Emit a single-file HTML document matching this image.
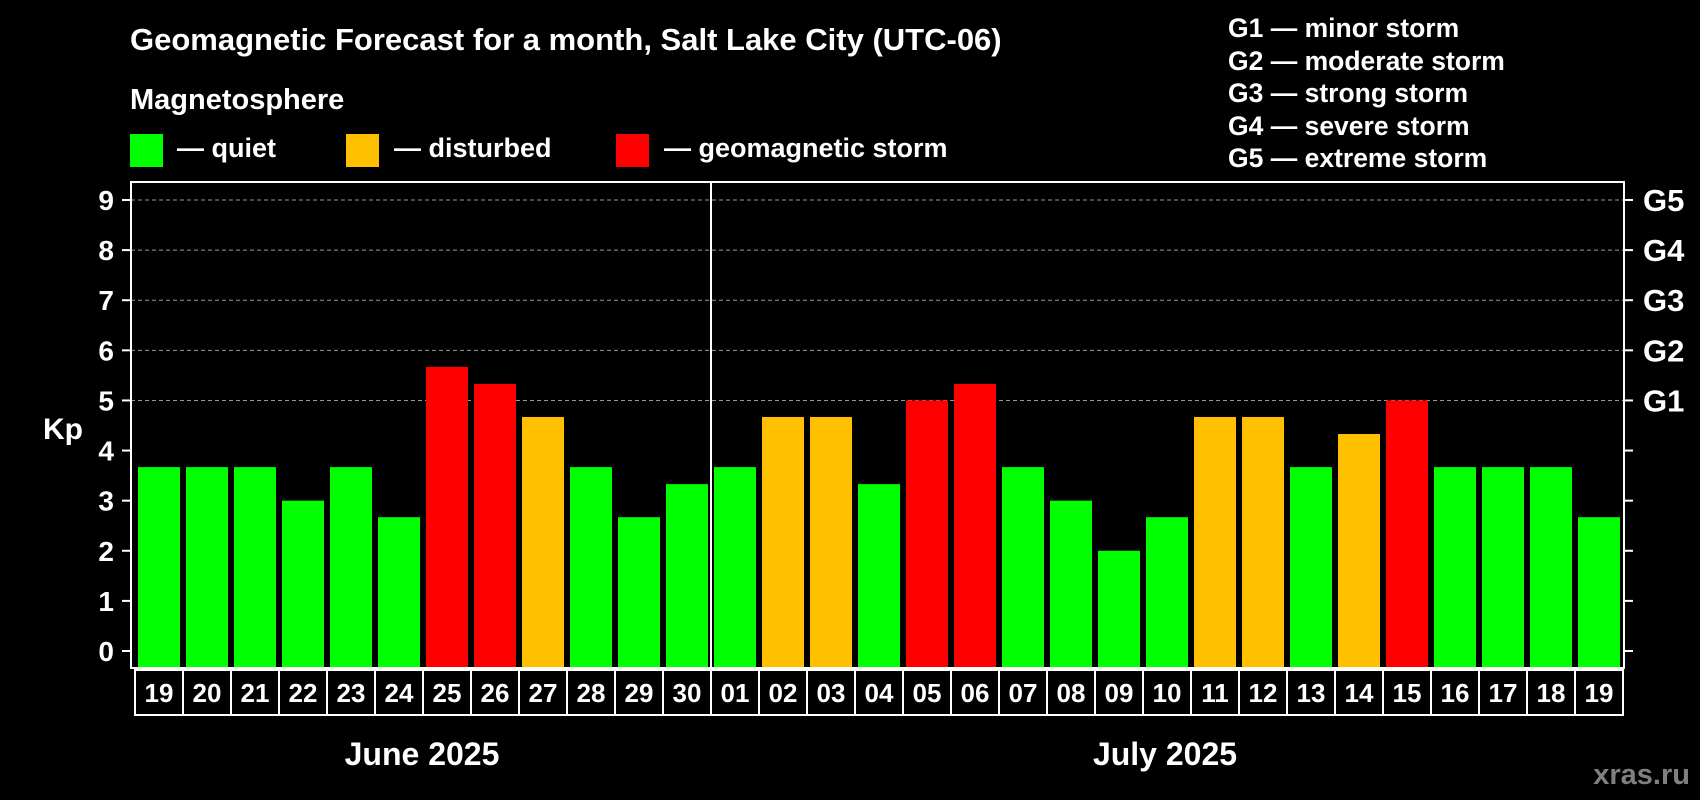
<!DOCTYPE html>
<html><head><meta charset="utf-8"><style>
html,body{margin:0;padding:0;background:#000;}
svg{display:block;font-family:"Liberation Sans",Arial,sans-serif;font-weight:bold;}
</style></head><body>
<svg id="chart" width="1700" height="800" viewBox="0 0 1700 800">
<text x="130" y="50" fill="#fff" font-size="31">Geomagnetic Forecast for a month, Salt Lake City (UTC-06)</text>
<text x="130" y="109" fill="#fff" font-size="29">Magnetosphere</text>
<g><rect x="130" y="134" width="33" height="33" fill="#00ff00"/><text x="177" y="157" fill="#fff" font-size="27">— quiet</text></g>
<g><rect x="346" y="134" width="33" height="33" fill="#ffc000"/><text x="394" y="157" fill="#fff" font-size="27">— disturbed</text></g>
<g><rect x="616" y="134" width="33" height="33" fill="#ff0000"/><text x="664" y="157" fill="#fff" font-size="27">— geomagnetic storm</text></g>
<g fill="#fff" font-size="26.5">
<text x="1228" y="37">G1 — minor storm</text>
<text x="1228" y="70">G2 — moderate storm</text>
<text x="1228" y="102">G3 — strong storm</text>
<text x="1228" y="135">G4 — severe storm</text>
<text x="1228" y="167">G5 — extreme storm</text>
</g>
<text x="43" y="439" fill="#fff" font-size="30">Kp</text>
<g id="grid"></g><g id="bars"></g><g id="axes"></g><g id="labels"></g>
<text x="422" y="765" fill="#fff" font-size="32" text-anchor="middle">June 2025</text>
<text x="1165" y="765" fill="#fff" font-size="32" text-anchor="middle">July 2025</text>
<text x="1690" y="784" fill="#808080" font-size="29" text-anchor="end">xras.ru</text>
</svg>
<script>
const days = ["19","20","21","22","23","24","25","26","27","28","29","30","01","02","03","04","05","06","07","08","09","10","11","12","13","14","15","16","17","18","19"];
const kpValues = [3.67,3.67,3.67,3,3.67,2.67,5.67,5.33,4.67,3.67,2.67,3.33,3.67,4.67,4.67,3.33,5,5.33,3.67,3,2,2.67,4.67,4.67,3.67,4.33,5,3.67,3.67,3.67,2.67];
const yTicks = [0,1,2,3,4,5,6,7,8,9];
const gLabels = ["G1","G2","G3","G4","G5"];
const gLevels = [5,6,7,8,9];
const monthSplitIndex = 12;

const NS="http://www.w3.org/2000/svg";
const plotL=131, plotR=1624, plotT=182, plotB=668, y0=651, y9=200;
const pitch=48, barW=42, firstX=138;
function y(v){return y0-(y0-y9)*v/9;}
function xb(i){return firstX+i*pitch;}
function mk(tag,attrs,parent){const e=document.createElementNS(NS,tag);for(const k in attrs)e.setAttribute(k,attrs[k]);parent.appendChild(e);return e;}
function color(v){return v>=5?"#ff0000":(v>=4?"#ffc000":"#00ff00");}
const grid=document.getElementById('grid'),bars=document.getElementById('bars'),axes=document.getElementById('axes'),labels=document.getElementById('labels');
yTicks.forEach(t=>{
  if(t>=5){const l=mk('line',{x1:plotL,x2:plotR,y1:y(t),y2:y(t),stroke:'#999','stroke-width':1,'stroke-dasharray':'4,3'},grid);
  
  }
  const tk=mk('line',{x1:plotL-9,x2:plotL,y1:y(t),y2:y(t),stroke:'#fff','stroke-width':2},axes);
  
  
  const tr=mk('line',{x1:plotR,x2:plotR+9,y1:y(t),y2:y(t),stroke:'#fff','stroke-width':2},axes);
  
  
  const tx=mk('text',{x:114,y:y(t)+10,fill:'#fff','font-size':28,'text-anchor':'end'},labels);
  tx.textContent=t;
  
  
});
gLabels.forEach((g,i)=>{
  const tx=mk('text',{x:1643,y:y(gLevels[i])+11,fill:'#fff','font-size':31},labels);
  tx.textContent=g;
  
  
});
kpValues.forEach((v,i)=>{
  const r=mk('rect',{x:xb(i),y:y(v),width:barW,height:plotB-1-y(v),fill:color(v)},bars);
  
  
  const b=mk('rect',{x:xb(i)-3,y:plotB+2,width:pitch,height:45,fill:'none',stroke:'#fff','stroke-width':2},labels);
  
  
  const t=mk('text',{x:xb(i)+barW/2,y:plotB+34,fill:'#fff','font-size':26,'text-anchor':'middle'},labels);
  t.textContent=days[i];
  
  
});
const frame=mk('rect',{x:plotL,y:plotT,width:plotR-plotL,height:plotB-plotT,fill:'none',stroke:'#fff','stroke-width':2},axes);


const sx=xb(monthSplitIndex)-3;
const div=mk('line',{x1:sx,x2:sx,y1:plotT,y2:plotB,stroke:'#fff','stroke-width':2},axes);


</script>
</body></html>
